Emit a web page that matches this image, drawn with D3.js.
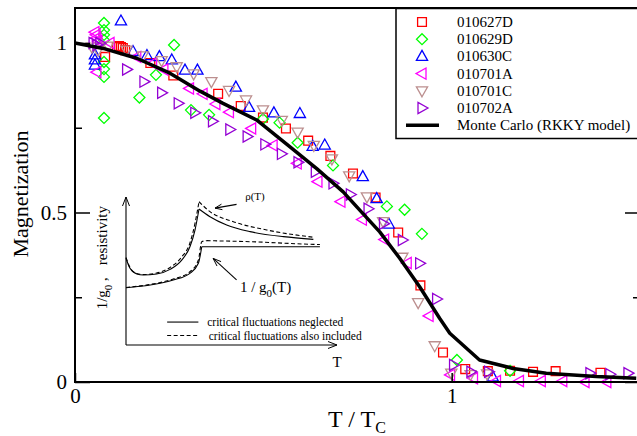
<!DOCTYPE html>
<html lang="en">
<head>
<meta charset="utf-8">
<title>Magnetization vs T/Tc</title>
<script src="https://cdnjs.cloudflare.com/ajax/libs/d3/7.8.5/d3.min.js"></script>
<style>
body { margin: 0; background: #fff; }
svg { display: block; font-family: "Liberation Serif", "Times New Roman", serif; }
.frame { fill: none; stroke: #000; stroke-width: 2; }
.mark { fill: none; stroke-width: 1.3; }
</style>
</head>
<body>
<div id="chart"></div>
<script>

// ---- measured series, [T/Tc, magnetization] ----
var s010627D = [[0.080,0.959],[0.111,0.988],[0.117,0.991],[0.122,0.988],[0.127,0.985],[0.133,0.979],
  [0.200,0.941],[0.261,0.904],[0.380,0.850],[0.440,0.814],[0.499,0.780],[0.560,0.748],[0.619,0.712],
  [0.678,0.667],[0.738,0.615],[0.798,0.544],[0.858,0.441],[0.917,0.285],[0.977,0.087],[1.036,0.038],
  [1.096,0.032],[1.155,0.033],[1.216,0.030],[1.276,0.032],[1.395,0.027]];

var s010629D = [[0.077,1.059],[0.077,1.038],[0.077,1.024],[0.077,1.009],[0.077,0.944],[0.077,0.923],
  [0.077,0.900],[0.077,0.779],[0.263,0.994],[0.171,0.839],[0.215,0.906],[0.308,0.802],[0.356,0.788],
  [0.499,0.776],[0.543,0.765],[0.591,0.706],[0.685,0.639],[0.828,0.518],[0.875,0.508],[0.921,0.437],
  [1.014,0.065],[1.155,0.033]];

var s010630C = [[0.122,1.065],[0.053,0.965],[0.053,0.950],[0.053,0.935],[0.154,0.975],[0.191,0.963],
  [0.224,0.960],[0.257,0.950],[0.292,0.920],[0.325,0.920],[0.427,0.870],[0.462,0.810],[0.528,0.794],
  [0.597,0.792],[0.631,0.695],[0.663,0.699],[0.764,0.606],[0.801,0.541],[0.833,0.466],[1.109,0.015]];

var s010701A = [[0.053,1.032],[0.056,1.024],[0.058,1.015],[0.061,1.006],[0.058,0.914],[0.093,1.000],
  [0.164,0.959],[0.206,0.940],[0.236,0.922],[0.304,0.866],[0.340,0.850],[0.374,0.820],[0.410,0.796],
  [0.469,0.748],[0.526,0.698],[0.590,0.645],[0.645,0.591],[0.706,0.532],[0.763,0.479],[0.822,0.420],
  [0.882,0.351],[0.940,0.195],[0.997,0.021],[1.058,0.011],[1.119,0.003],[1.180,0.003],[1.238,0.003],
  [1.295,0.003],[1.354,0.000],[1.412,0.000]];

var s010701C = [[0.045,0.988],[0.061,0.979],[0.088,0.991],[0.137,0.979],[0.180,0.962],[0.230,0.948],
  [0.270,0.930],[0.315,0.909],[0.362,0.886],[0.409,0.860],[0.454,0.832],[0.499,0.803],[0.549,0.772],
  [0.591,0.737],[0.634,0.698],[0.682,0.658],[0.728,0.608],[0.775,0.546],[0.818,0.473],[0.869,0.368],
  [0.911,0.234],[0.955,0.107],[0.999,0.026],[1.050,0.022],[1.094,0.024]];

var s010702A = [[0.048,1.000],[0.058,0.994],[0.066,1.000],[0.137,0.922],[0.183,0.886],[0.230,0.853],
  [0.274,0.822],[0.318,0.794],[0.365,0.769],[0.411,0.745],[0.457,0.724],[0.504,0.701],[0.548,0.673],
  [0.592,0.648],[0.638,0.620],[0.685,0.586],[0.731,0.553],[0.778,0.511],[0.819,0.467],[0.869,0.419],
  [0.915,0.350],[0.960,0.245],[1.005,0.050],[1.051,0.030],[1.098,0.030],[1.367,0.026],[1.420,0.023],
  [1.468,0.026]];

// Monte Carlo (RKKY model)
var monteCarlo = [[0,1.0],[0.075,0.984],[0.164,0.955],[0.252,0.911],[0.332,0.858],[0.393,0.822],
  [0.482,0.773],[0.570,0.694],[0.641,0.630],[0.712,0.561],[0.756,0.507],[0.809,0.443],[0.862,0.365],
  [0.915,0.281],[0.968,0.188],[0.995,0.144],[1.074,0.065],[1.163,0.040],[1.251,0.026],[1.384,0.016],
  [1.490,0.011]];

var seriesNames = ["010627D", "010629D", "010630C", "010701A", "010701C", "010702A"];
var seriesColors = ["#ff0000", "#00ff00", "#0000ff", "#ff00ff", "#bc8f8f", "#9400d3"];
var seriesSymbols = ["square", "diamond", "up", "left", "down", "right"];
var seriesData = [s010627D, s010629D, s010630C, s010701A, s010701C, s010702A];

var yTicksMajor = [0, 0.5, 1];
var yTicksMinor = [0.25, 0.75];
var xTicksMajor = [0, 1];

// ---- inset (schematic, arbitrary units 0..1) ----
var rhoSolid = [[0,0.586],[0.019,0.518],[0.051,0.480],[0.082,0.473],[0.145,0.480],[0.209,0.511],
  [0.264,0.574],[0.303,0.664],[0.327,0.777],[0.346,0.919],[0.398,0.867],[0.477,0.811],[0.588,0.766],
  [0.746,0.732],[0.888,0.714]];
var rhoDashed = [[0,0.591],[0.019,0.524],[0.051,0.483],[0.082,0.476],[0.145,0.486],[0.209,0.524],
  [0.264,0.595],[0.303,0.689],[0.327,0.822],[0.346,0.968],[0.398,0.901],[0.509,0.833],[0.667,0.777],
  [0.888,0.728]];
var g0Solid = [[0,0.387],[0.114,0.405],[0.224,0.439],[0.303,0.484],[0.343,0.552],[0.359,0.664],
  [0.919,0.664]];
var g0Dashed = [[0,0.389],[0.114,0.409],[0.224,0.446],[0.303,0.495],[0.343,0.574],[0.359,0.698],
  [0.382,0.705],[0.588,0.698],[0.888,0.680],[0.919,0.679]];

var W = 637, H = 436;
var margin = {top: 8, left: 75};
var plotW = 565, plotH = 374;

var svg = d3.select("#chart").append("svg")
    .attr("width", W)
    .attr("height", H);

var x = d3.scaleLinear().domain([0, 1.5]).range([margin.left, margin.left + plotW]);
var y = d3.scaleLinear().domain([0, plotH / 339]).range([margin.top + plotH, margin.top]);

function markerPath(type) {
    var s = 4.4, r = 5.5;
    switch (type) {
        case "square": return "M" + -s + "," + -s + "H" + s + "V" + s + "H" + -s + "Z";
        case "diamond": return "M0," + -r + "L" + r + ",0L0," + r + "L" + -r + ",0Z";
        case "up": return "M0,-6L5.6,4L-5.6,4Z";
        case "down": return "M0,6L5.6,-4L-5.6,-4Z";
        case "left": return "M-6,0L4,-5.6L4,5.6Z";
        case "right": return "M6,0L-4,-5.6L-4,5.6Z";
    }
}

// ---- inset ----
var ix = d3.scaleLinear().domain([0, 1]).range([126, 337]);
var iy = d3.scaleLinear().domain([0, 1]).range([345, 197]);

var inset = svg.append("g").attr("class", "inset");

function arrowHead(g, x1, y1, x2, y2, len, half) {
    var a = Math.atan2(y2 - y1, x2 - x1);
    var bx = x2 - len * Math.cos(a), by = y2 - len * Math.sin(a);
    var nx = -Math.sin(a) * half, ny = Math.cos(a) * half;
    g.append("path")
        .attr("d", "M" + (bx + nx) + "," + (by + ny) + "L" + x2 + "," + y2 + "L" + (bx - nx) + "," + (by - ny))
        .attr("fill", "none").attr("stroke", "#000").attr("stroke-width", 1);
}

function arrow(g, p1, p2, len, half) {
    g.append("line")
        .attr("x1", p1[0]).attr("y1", p1[1]).attr("x2", p2[0]).attr("y2", p2[1])
        .attr("stroke", "#000").attr("stroke-width", 1.1);
    arrowHead(g, p1[0], p1[1], p2[0], p2[1], len, half);
}

// inset axes
arrow(inset, [ix(0), iy(0)], [ix(0), iy(1)], 9, 3.5);
arrow(inset, [ix(0), iy(0)], [ix(1), iy(0)], 9, 3.5);

var iline = d3.line().x(d => ix(d[0])).y(d => iy(d[1])).curve(d3.curveMonotoneX);

function drawCusped(data, dashed) {
    // split at the peak so the cusp stays sharp
    var k = d3.maxIndex(data, d => d[1]);
    [data.slice(0, k + 1), data.slice(k)].forEach(function(part) {
        inset.append("path")
            .attr("d", iline(part))
            .attr("fill", "none")
            .attr("stroke", "#000")
            .attr("stroke-width", 1.1)
            .attr("stroke-dasharray", dashed ? "4,2.5" : null);
    });
}
drawCusped(rhoSolid, false);
drawCusped(rhoDashed, true);
drawCusped(g0Solid, false);
drawCusped(g0Dashed, true);

// inset annotations
inset.append("text").attr("x", ix(0.565)).attr("y", iy(0.98)).attr("font-size", 11).text("\u03c1(T)");
arrow(inset, [ix(0.524), iy(0.95)], [ix(0.422), iy(0.925)], 7, 2.8);

var gl = inset.append("text").attr("x", ix(0.54)).attr("y", iy(0.36)).attr("font-size", 15);
gl.append("tspan").text("1 / g");
gl.append("tspan").attr("font-size", 11).attr("dy", 5).text("0");
gl.append("tspan").attr("dy", -5).text("(T)");
arrow(inset, [ix(0.524), iy(0.44)], [ix(0.413), iy(0.585)], 8, 3);

inset.append("text").attr("x", ix(1.0)).attr("y", iy(-0.15)).attr("text-anchor", "middle")
    .attr("font-size", 15).text("T");

// inset y label
var yl = inset.append("text")
    .attr("transform", "translate(107," + iy(0.59) + ") rotate(-90)")
    .attr("text-anchor", "middle")
    .attr("font-size", 15);
yl.append("tspan").text("1/g");
yl.append("tspan").attr("font-size", 11).attr("dy", 5).text("0");
yl.append("tspan").attr("dy", -5).text(" ,");
yl.append("tspan").attr("dx", 12).text("resistivity");

// inset legend
var insetLegend = [["critical fluctuations neglected", false], ["critical fluctuations also included", true]];
insetLegend.forEach(function(d, i) {
    var yy = iy(0.155) + i * 13.5;
    inset.append("line")
        .attr("x1", ix(0.195)).attr("x2", ix(0.343)).attr("y1", yy).attr("y2", yy)
        .attr("stroke", "#000").attr("stroke-width", 1.1)
        .attr("stroke-dasharray", d[1] ? "4,2.5" : null);
    inset.append("text")
        .attr("x", ix(d[1] ? 0.392 : 0.385)).attr("y", yy + 4)
        .attr("font-size", 11.5).text(d[0]);
});

// ---- main plot ----
var marks = svg.append("g");
seriesData.forEach(function(data, i) {
    marks.selectAll(".s" + i)
        .data(data)
        .enter().append("path")
            .attr("class", "mark s" + i)
            .attr("d", markerPath(seriesSymbols[i]))
            .attr("stroke", seriesColors[i])
            .attr("transform", d => "translate(" + x(d[0]) + "," + y(d[1]) + ")");
});

svg.append("path")
    .datum(monteCarlo)
    .attr("d", d3.line().x(d => x(d[0])).y(d => y(d[1])))
    .attr("fill", "none")
    .attr("stroke", "#000")
    .attr("stroke-width", 3.5)
    .attr("stroke-linejoin", "round");

// frame
svg.append("rect").attr("class", "frame")
    .attr("x", margin.left).attr("y", margin.top)
    .attr("width", plotW).attr("height", plotH);

// left axis
var leftAxis = svg.append("g")
    .attr("transform", "translate(" + margin.left + ",0)")
    .call(d3.axisLeft(y).tickValues(yTicksMajor).tickSize(-15).tickPadding(8).tickFormat(d3.format("")));
leftAxis.select(".domain").remove();
leftAxis.selectAll("line").attr("stroke-width", 1.5);
leftAxis.selectAll("text").attr("font-size", 21).attr("font-family", "Liberation Serif");

var leftMinor = svg.append("g")
    .attr("transform", "translate(" + margin.left + ",0)")
    .call(d3.axisLeft(y).tickValues(yTicksMinor).tickSize(-7).tickFormat(""));
leftMinor.select(".domain").remove();
leftMinor.selectAll("line").attr("stroke-width", 1.5);

// right axis (ticks only)
[[yTicksMajor, -15], [yTicksMinor, -7]].forEach(function(t) {
    var g = svg.append("g")
        .attr("transform", "translate(" + (margin.left + plotW) + ",0)")
        .call(d3.axisRight(y).tickValues(t[0]).tickSize(t[1]).tickFormat(""));
    g.select(".domain").remove();
    g.selectAll("line").attr("stroke-width", 1.5);
});

// bottom axis
var bottomAxis = svg.append("g")
    .attr("transform", "translate(0," + (margin.top + plotH) + ")")
    .call(d3.axisBottom(x).tickValues(xTicksMajor).tickSize(-9).tickPadding(6).tickFormat(d3.format("")));
bottomAxis.select(".domain").remove();
bottomAxis.selectAll("line").attr("stroke-width", 1.5);
bottomAxis.selectAll("text").attr("font-size", 21).attr("font-family", "Liberation Serif");

// axis titles
svg.append("text")
    .attr("transform", "translate(28,194) rotate(-90)")
    .attr("text-anchor", "middle")
    .attr("font-size", 22)
    .text("Magnetization");

var xt = svg.append("text")
    .attr("x", 328).attr("y", 427)
    .attr("font-size", 24);
xt.append("tspan").text("T / T");
xt.append("tspan").attr("font-size", 16).attr("dy", 6).text("C");

// ---- legend ----
var legend = svg.append("g");
legend.append("rect")
    .attr("x", 396).attr("y", 8.5).attr("width", 260).attr("height", 130)
    .attr("fill", "#fff").attr("stroke", "#000").attr("stroke-width", 1.5);

seriesNames.forEach(function(name, i) {
    var yy = 22 + i * 17.2;
    legend.append("path")
        .attr("class", "mark")
        .attr("d", markerPath(seriesSymbols[i]))
        .attr("stroke", seriesColors[i])
        .attr("transform", "translate(422," + yy + ")");
    legend.append("text").attr("x", 457).attr("y", yy + 5).attr("font-size", 15).text(name);
});
var ly = 22 + 6 * 17.2;
legend.append("line")
    .attr("x1", 406).attr("x2", 439).attr("y1", ly).attr("y2", ly)
    .attr("stroke", "#000").attr("stroke-width", 3.5);
legend.append("text").attr("x", 457).attr("y", ly + 5).attr("font-size", 15).text("Monte Carlo (RKKY model)");

</script>
</body>
</html>
